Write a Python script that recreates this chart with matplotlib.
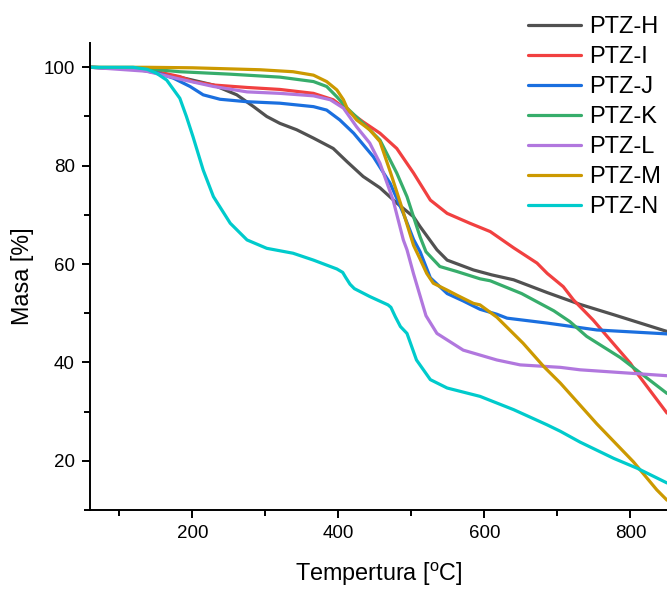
import matplotlib
matplotlib.use("Agg")
import matplotlib.pyplot as plt
from matplotlib.ticker import MultipleLocator

plt.rcParams["font.family"] = ["Liberation Sans", "DejaVu Sans"]

# TGA curves: temperature (°C) and residual mass (%) for each sample
t_h = [60, 120, 183, 229, 261, 284, 302, 320, 343, 366, 393, 412, 434, 457, 480, 503, 512, 535,
       549, 585, 610, 640, 686, 731, 777, 850]
m_h = [100, 99.7, 98.0, 96.4, 94.4, 92.0, 90.0, 88.6, 87.3, 85.6, 83.5, 80.8, 77.8, 75.5, 72.4,
       69.6, 67.6, 62.9, 60.8, 58.8, 57.8, 56.8, 54.2, 51.8, 49.7, 46.3]

t_i = [60, 137, 183, 201, 229, 275, 320, 366, 393, 412, 434, 457, 480, 503, 526, 549, 580, 608,
       640, 672, 686, 708, 722, 749, 768, 800, 809, 850]
m_i = [100, 99.6, 98.1, 97.1, 96.4, 95.9, 95.5, 94.7, 93.4, 91.3, 88.9, 86.6, 83.5, 78.5, 73.0,
       70.3, 68.3, 66.6, 63.3, 60.2, 58.1, 55.4, 52.7, 48.6, 45.3, 39.8, 37.8, 29.7]

t_j = [60, 137, 174, 197, 215, 238, 275, 320, 366, 384, 402, 421, 448, 471, 489, 503, 512, 526,
       549, 571, 594, 617, 631, 653, 686, 754, 850]
m_j = [100, 99.6, 97.8, 96.1, 94.4, 93.5, 93.0, 92.7, 92.0, 91.3, 89.3, 86.6, 81.8, 76.4, 70.3,
       65.0, 62.5, 57.2, 54.0, 52.5, 50.8, 49.8, 49.0, 48.6, 48.0, 46.6, 45.8]

t_k = [60, 137, 183, 252, 320, 366, 384, 398, 412, 434, 457, 480, 494, 503, 512, 520, 539, 562,
       594, 608, 651, 695, 717, 740, 786, 850]
m_k = [100, 99.7, 99.1, 98.6, 98.0, 97.1, 96.1, 94.0, 91.7, 88.6, 85.2, 78.5, 73.7, 69.6, 65.5,
       62.5, 59.5, 58.5, 57.0, 56.6, 54.0, 50.5, 48.3, 45.3, 41.0, 33.7]

t_l = [60, 137, 183, 229, 275, 320, 366, 389, 407, 425, 443, 457, 475, 489, 494, 503, 512, 520,
       535, 571, 617, 649, 704, 731, 850]
m_l = [100, 99.2, 97.6, 96.1, 95.0, 94.7, 94.2, 93.4, 91.7, 87.9, 84.6, 80.5, 73.0, 64.9, 62.9,
       58.0, 53.5, 49.5, 45.9, 42.5, 40.5, 39.5, 39.0, 38.5, 37.3]

t_m = [60, 137, 200, 293, 338, 366, 384, 398, 407, 412, 425, 443, 457, 471, 485, 503, 512, 521,
       530, 549, 562, 585, 594, 617, 653, 681, 704, 754, 804, 836, 850]
m_m = [100, 100, 99.9, 99.5, 99.1, 98.4, 97.1, 95.4, 93.4, 91.7, 89.3, 87.3, 84.9, 78.8, 72.4,
       63.8, 61.0, 58.1, 56.1, 54.7, 53.7, 52.0, 51.7, 49.2, 43.9, 39.2, 35.8, 27.5, 19.8, 14.1, 12.0]

t_n = [60, 119, 138, 151, 165, 183, 192, 201, 215, 229, 252, 275, 302, 338, 366, 398, 406, 410,
       416, 422, 443, 468, 472, 478, 485, 494, 507, 526, 549, 594, 640, 686, 704, 731, 777, 809, 850]
m_n = [100, 100, 99.6, 98.8, 97.4, 93.7, 90.0, 85.9, 79.1, 73.7, 68.3, 64.9, 63.2, 62.2, 60.8,
       59.0, 58.3, 57.3, 55.9, 55.0, 53.4, 51.7, 51.2, 49.3, 47.3, 45.9, 40.5, 36.5, 34.8, 33.1,
       30.4, 27.3, 26.0, 23.8, 20.5, 18.5, 15.5]

labels = ["PTZ-H", "PTZ-I", "PTZ-J", "PTZ-K", "PTZ-L", "PTZ-M", "PTZ-N"]
colors = ["#515151", "#F14040", "#1A6FDF", "#37AD6B", "#B177DE", "#CC9900", "#00CBCC"]
temps = [t_h, t_i, t_j, t_k, t_l, t_m, t_n]
masses = [m_h, m_i, m_j, m_k, m_l, m_m, m_n]

fig = plt.figure(figsize=(6.67, 5.90), dpi=100)
ax = fig.add_axes([90 / 667, 80 / 590, 577 / 667, 467.3 / 590])

for t, m, lab, col in zip(temps, masses, labels, colors):
    ax.plot(t, m, color=col, lw=2.3, label=lab, solid_joinstyle="round",
            solid_capstyle="round")

ax.set_xlim(60, 850)
ax.set_ylim(10, 105)
ax.xaxis.set_major_locator(MultipleLocator(200))
ax.xaxis.set_minor_locator(MultipleLocator(100))
ax.yaxis.set_major_locator(MultipleLocator(20))
ax.yaxis.set_minor_locator(MultipleLocator(10))

for side in ("top", "right"):
    ax.spines[side].set_visible(False)
for side in ("left", "bottom"):
    ax.spines[side].set_linewidth(1.4)

ax.tick_params(which="major", direction="out", length=6, width=1.4,
               labelsize=13.5, pad=5)
ax.tick_params(which="minor", direction="out", length=4, width=1.4)

ax.set_xlabel("Tempertura [$\\mathregular{^{o}}$C]", fontsize=16.8, labelpad=13)
ax.set_ylabel("Masa [%]", fontsize=16.8, labelpad=7)

fig.legend(loc="upper left", bbox_to_anchor=(528 / 667, 1 - 16 / 590),
           frameon=False, fontsize=17, borderpad=0, borderaxespad=0,
           handlelength=2.25, handletextpad=0.35, labelspacing=0.34)

fig.savefig("out.png", dpi=100)
